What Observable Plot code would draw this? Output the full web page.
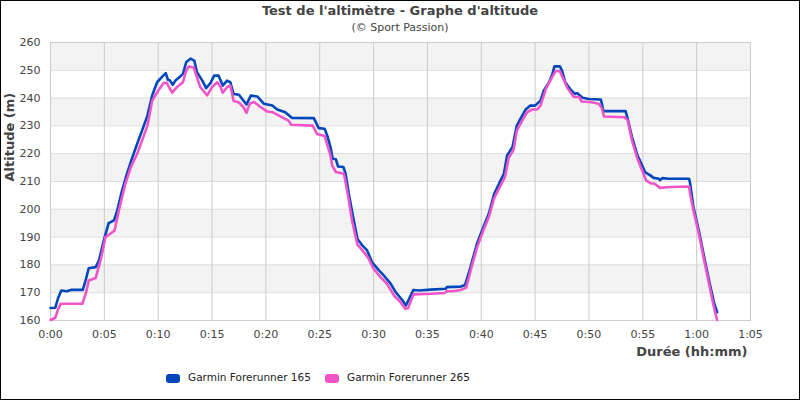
<!DOCTYPE html>
<html>
<head>
<meta charset="utf-8">
<script src="https://cdn.jsdelivr.net/npm/d3@7"></script>
<script src="https://cdn.jsdelivr.net/npm/@observablehq/plot@0.6"></script>
<style>
  html, body { margin: 0; padding: 0; background: #fff; }
  #wrap { position: relative; width: 800px; height: 400px; overflow: hidden; background: #fff; font-family: "DejaVu Sans", sans-serif; }
  #border { position: absolute; left: 0; top: 0; width: 800px; height: 400px; box-sizing: border-box; border: 1px solid #000; pointer-events: none; }
  #title { position: absolute; left: 0; top: 3px; width: 800px; text-align: center; font-weight: bold; font-size: 13px; line-height: 16px; color: #444; }
  #subtitle { position: absolute; left: 0; top: 20px; width: 800px; text-align: center; font-size: 11px; line-height: 15px; color: #444; }
  #chart { position: absolute; left: 0; top: 34px; }
  .sw { position: absolute; width: 14px; height: 9px; border-radius: 3px; top: 374px; }
  .lt { position: absolute; top: 370px; font-size: 10.5px; line-height: 15px; color: #222; white-space: nowrap; }
</style>
</head>
<body>
<div id="wrap">
  <div id="title">Test de l'altimètre - Graphe d'altitude</div>
  <div id="subtitle">(© Sport Passion)</div>
  <div id="chart"></div>
  <div id="legend"></div>
  <div id="border"></div>
</div>
<script>
// ---- data ----
const seriesNames = ["Garmin Forerunner 165", "Garmin Forerunner 265"];
const seriesColors = ["#0047BB", "#F054C8"];

const xTicks = [0, 5, 10, 15, 20, 25, 30, 35, 40, 45, 50, 55, 60, 65];
const yTicks = [160, 170, 180, 190, 200, 210, 220, 230, 240, 250, 260];
const bandStarts = [170, 190, 210, 230, 250];

// time in minutes, altitude in m — Forerunner 165
const t165 = [0, 0.45, 0.7, 1.0, 1.5, 1.9, 3.0, 3.3, 3.55, 4.2, 4.5, 4.95, 5.4, 5.9, 6.2, 6.65, 7.1, 7.6, 8.05, 8.5,
  9.0, 9.45, 9.9, 10.4, 10.7, 10.9, 11.1, 11.35, 11.6, 12.05, 12.3, 12.6, 13.0, 13.35, 13.6, 14.1, 14.45, 14.85, 15.2, 15.6,
  15.8, 16.0, 16.4, 16.7, 17.0, 17.5, 17.8, 18.2, 18.6, 19.2, 19.8, 20.6, 21.05, 21.8, 22.4, 24.45, 24.7, 24.9, 25.45, 25.7,
  26.0, 26.2, 26.5, 26.7, 27.2, 27.4, 27.7, 28.1, 28.5, 28.95, 29.4, 29.85, 30.5, 30.95, 31.6, 32.05, 32.7, 33.0, 33.3, 33.7,
  34.2, 35.3, 36.7, 36.8, 38.1, 38.5, 39.0, 39.6, 40.2, 40.7, 41.2, 41.8, 42.1, 42.4, 42.9, 43.3, 43.8, 44.1, 44.55, 45.0,
  45.5, 45.8, 46.3, 46.6, 46.8, 47.3, 47.5, 47.8, 48.3, 48.7, 48.9, 49.4, 50.0, 51.1, 51.2, 51.35, 53.4, 53.6, 54.0, 54.5,
  55.0, 55.2, 55.7, 56.0, 56.5, 56.6, 56.8, 57.4, 59.3, 59.4, 59.7, 60.2, 60.7, 61.15, 61.6, 61.9];
const alt165 = [164.5, 164.6, 168, 170.8, 170.5, 171, 171, 175, 178.8, 179.2, 181.6, 188.8, 195, 196, 199.6, 206.8, 212.8, 218.7, 223.6, 228.3,
  233.7, 241, 245.7, 247.8, 249, 246.6, 246.3, 244.8, 246.3, 247.8, 248.7, 252.9, 254.2, 253.5, 249.3, 246.3, 243.6, 245.4, 248.1, 248.1,
  246.3, 244.5, 246.3, 245.7, 241.5, 241.2, 239.7, 237.7, 240.9, 240.6, 238, 237.3, 235.9, 234.9, 232.9, 232.8, 230.8, 229.2, 229, 226.5,
  222.4, 218.2, 218, 215.4, 215.2, 212.8, 205.6, 197.2, 189.4, 187, 185.2, 181, 178, 176.2, 173.2, 170.2, 167.2, 165.4, 167.8, 171,
  170.8, 171.1, 171.4, 172, 172.2, 172.8, 179.2, 187.6, 193.6, 198.4, 205.6, 210.4, 212.8, 219.4, 222.4, 230.1, 233.7, 235.8, 237.3, 237.3,
  239.1, 242.7, 245.7, 248.7, 251.4, 251.4, 249.9, 245.7, 243, 241.5, 241.8, 240.1, 239.7, 239.5, 238, 235.3, 235.3, 232.5, 226, 219.4,
  215.2, 213.4, 212.2, 211.3, 211, 210.5, 211.2, 211, 211, 209.2, 200.8, 192.4, 182.8, 174.4, 166.6, 163];

// Forerunner 265
const t265 = [0, 0.45, 0.7, 0.95, 2.95, 3.3, 3.55, 4.2, 4.65, 5.1, 5.55, 5.95, 6.35, 6.95, 7.45, 8.05, 8.5, 9.0, 9.45, 9.9,
  10.5, 10.8, 11.0, 11.3, 11.75, 12.3, 12.6, 12.85, 13.3, 13.55, 13.9, 14.55, 15.0, 15.5, 15.8, 16.0, 16.4, 16.7, 17.0, 17.5,
  17.9, 18.2, 18.5, 18.9, 19.5, 20.1, 20.65, 21.35, 22.1, 22.35, 24.35, 24.75, 25.45, 26.0, 26.15, 26.5, 27.25, 27.6, 28.0, 28.5,
  29.1, 29.55, 30.0, 30.65, 31.25, 31.9, 32.5, 32.95, 33.2, 33.7, 35.3, 36.6, 36.8, 37.4, 38.1, 38.6, 39.0, 39.6, 40.2, 40.7,
  41.2, 41.8, 42.2, 42.55, 43.0, 43.3, 43.8, 44.25, 44.7, 45.2, 45.5, 46.0, 46.4, 46.9, 47.3, 47.7, 48.0, 48.6, 49.1, 49.3,
  50.1, 50.9, 51.2, 51.4, 53.3, 53.6, 54.0, 54.5, 55.0, 55.3, 55.7, 56.1, 56.3, 56.6, 57.6, 59.3, 59.4, 59.7, 60.2, 60.7,
  61.15, 61.6, 61.9];
const alt265 = [160.2, 161, 164, 166, 166, 170, 174.4, 175.3, 181.6, 190, 191.2, 192.4, 199.6, 209.2, 215.1, 220, 224.7, 230.1, 239.1, 242.1,
  245.4, 245.5, 244, 242, 244, 245.7, 249.9, 251.4, 251, 248.1, 244, 241, 244, 245.7, 244, 241.9, 244, 244.5, 239, 238.4,
  236.8, 234.7, 238, 238.6, 236.8, 235.2, 234.9, 233.4, 231.9, 230.4, 230.1, 227.1, 226.4, 219.4, 215.8, 213.4, 212.8, 205.6, 196, 187.3,
  184.6, 182.2, 178.6, 175.6, 173.2, 169, 166.6, 164.2, 164.4, 169.4, 169.6, 169.9, 170.5, 170.5, 171, 171.8, 177.8, 186.2, 192.5, 197.2,
  204, 208.6, 211.6, 218.5, 221.4, 228.3, 231.9, 234.9, 235.9, 235.9, 237.3, 243.3, 246.3, 249.7, 249.7, 246.3, 243.6, 240.4, 240.4, 238.8,
  238.6, 238, 236.4, 233.4, 233.1, 232, 224.7, 218.2, 213.4, 210.4, 209.4, 209.2, 208.6, 207.7, 208, 208.2, 205.6, 199.6, 191.2, 181.6,
  173.2, 164.8, 160.2];

const xDomain = [0, 65];
const yDomain = [160, 260];
// ---- end data ----

const fmt = m => `${Math.floor(m / 60)}:${String(m % 60).padStart(2, "0")}`;
const rows = (ts, as, name) => ts.map((t, i) => ({t, alt: as[i], name}));
const data165 = rows(t165, alt165, seriesNames[0]);
const data265 = rows(t265, alt265, seriesNames[1]);

const chart = Plot.plot({
  width: 800,
  height: 331,
  marginTop: 8,
  marginBottom: 45,
  marginLeft: 50,
  marginRight: 50,
  style: {fontFamily: "DejaVu Sans", fontSize: "11px", color: "#444", background: "transparent", overflow: "visible"},
  x: {domain: xDomain},
  y: {domain: yDomain},
  marks: [
    Plot.rect(bandStarts, {x1: xDomain[0], x2: xDomain[1], y1: d => d, y2: d => d + 10, fill: "#f3f3f3"}),
    Plot.gridY(yTicks, {stroke: "#dddddd", strokeOpacity: 1}),
    Plot.gridX(xTicks, {stroke: "#cccccc", strokeOpacity: 1}),
    Plot.frame({stroke: "#cccccc"}),
    Plot.axisX(xTicks, {tickSize: 0, tickPadding: 10, tickFormat: fmt, label: null}),
    Plot.axisY(yTicks, {tickSize: 0, tickPadding: 10, label: null}),
    Plot.line(data165, {x: "t", y: "alt", stroke: seriesColors[0], strokeWidth: 2.6, strokeLinejoin: "round"}),
    Plot.line(data265, {x: "t", y: "alt", stroke: seriesColors[1], strokeWidth: 2.6, strokeLinejoin: "round"}),
    Plot.text(["Altitude (m)"], {frameAnchor: "left", dx: -41, rotate: -90, fontWeight: "bold", fontSize: 13, fill: "#444"}),
    Plot.text(["Durée (hh:mm)"], {frameAnchor: "bottom-right", dx: -3, dy: 35, textAnchor: "end", fontWeight: "bold", fontSize: 13, fill: "#444"})
  ]
});
document.getElementById("chart").appendChild(chart);

// legend
const legend = document.getElementById("legend");
const swX = [166, 325];
seriesNames.forEach((n, i) => {
  const sw = document.createElement("div");
  sw.className = "sw";
  sw.style.left = swX[i] + "px";
  sw.style.background = seriesColors[i];
  legend.appendChild(sw);
  const lt = document.createElement("div");
  lt.className = "lt";
  lt.style.left = (swX[i] + 22) + "px";
  lt.textContent = n;
  legend.appendChild(lt);
});
</script>
</body>
</html>
